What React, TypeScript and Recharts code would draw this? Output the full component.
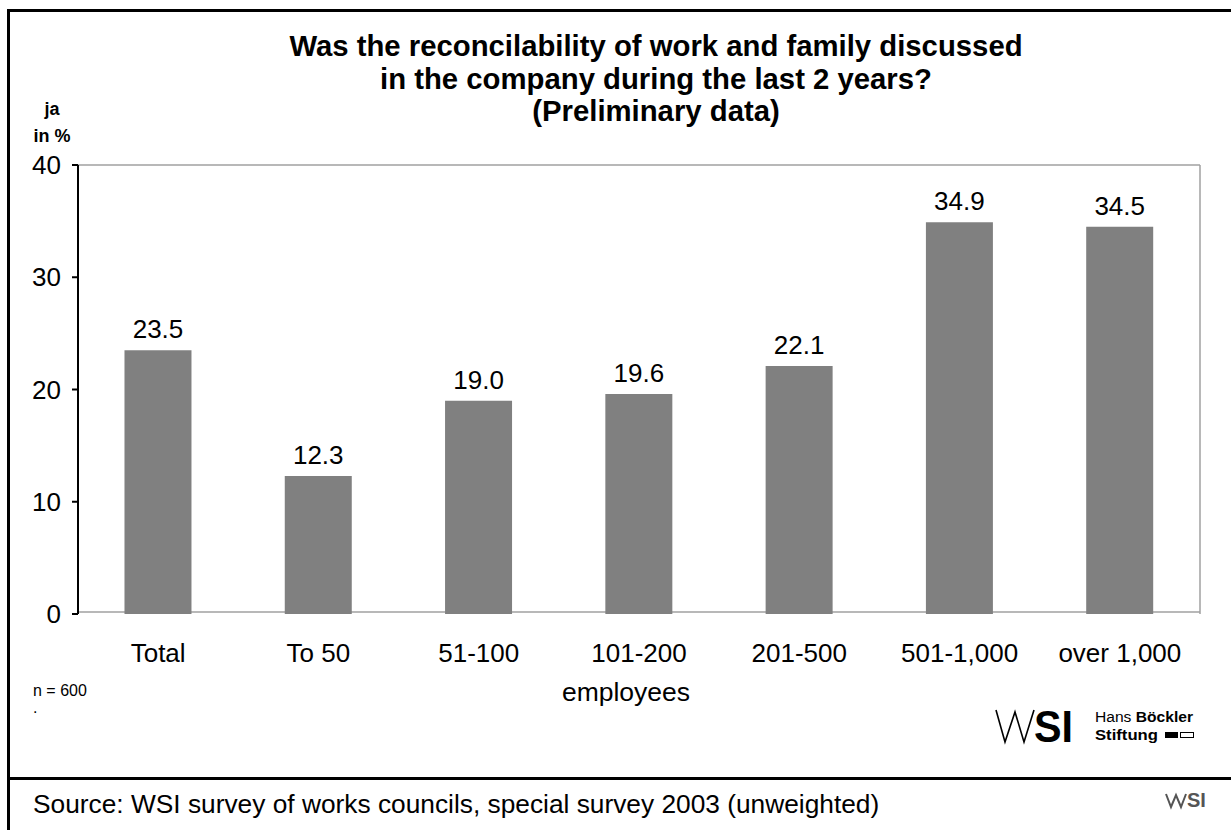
import { Bar, BarChart, CartesianGrid, LabelList, XAxis, YAxis } from "recharts";

const categories = ["Total", "To 50", "51-100", "101-200", "201-500", "501-1,000", "over 1,000"];
const jaValues = [23.5, 12.3, 19.0, 19.6, 22.1, 34.9, 34.5];
const yTicks = [0, 10, 20, 30, 40];
const titleLines = [
  "Was the reconcilability of work and family discussed",
  "in the company during the last 2 years?",
  "(Preliminary data)",
];

const data = categories.map((c, i) => ({ cat: c, ja: jaValues[i] }));
const edgeTicks = categories.map((_, i) => i).concat(categories.length);
const FONT = "'Liberation Sans', Arial, sans-serif";

export default function App() {
  return (
    <div style={{ position: "relative", width: 1231, height: 830, overflow: "hidden", background: "#fff", fontFamily: FONT }}>
      <style>{`body{margin:0}`}</style>
      {/* Rahmen wie im Original-Folienlayout */}
      <div style={{ position: "absolute", left: 7, top: 9, width: 1300, height: 900, borderLeft: "3px solid #000", borderTop: "3px solid #000" }} />
      <div style={{ position: "absolute", left: 7, top: 777, width: 1300, height: 3, background: "#000" }} />

      <div style={{ position: "absolute", left: 0, top: 0 }}>
        <BarChart width={1231} height={830} data={data} margin={{ top: 165, right: 31, left: 18, bottom: 176 }} barCategoryGap="29%">
          <CartesianGrid
            stroke="#a0a0a0"
            strokeWidth={1.5}
            horizontalCoordinatesGenerator={({ offset }: any) => [offset.top, offset.top + offset.height - 2]}
            verticalCoordinatesGenerator={({ offset }: any) => [offset.left + offset.width]}
          />
          <XAxis
            xAxisId="edges"
            type="number"
            domain={[0, categories.length]}
            ticks={edgeTicks}
            tick={false}
            height={0}
            tickSize={8}
            stroke="#000"
            strokeWidth={2}
          />
          <XAxis
            dataKey="cat"
            height={40}
            axisLine={false}
            tickLine={false}
            tickSize={0}
            tickMargin={30}
            tick={{ fill: "#000", fontSize: 26, fontFamily: FONT }}
            interval={0}
          />
          <YAxis
            domain={[0, 40]}
            ticks={yTicks}
            width={60}
            tickSize={6}
            tickMargin={11}
            stroke="#000"
            strokeWidth={2}
            tick={{ fill: "#000", fontSize: 26, fontFamily: FONT }}
          />
          <Bar dataKey="ja" fill="#808080" isAnimationActive={false}>
            <LabelList
              dataKey="ja"
              position="top"
              offset={12}
              fill="#000"
              fontSize={26}
              fontFamily={FONT}
              formatter={(v: any) => Number(v).toFixed(1)}
            />
          </Bar>
        </BarChart>
      </div>

      <svg width={1231} height={830} style={{ position: "absolute", left: 0, top: 0, pointerEvents: "none" }} fontFamily={FONT}>
        {titleLines.map((t, i) => (
          <text key={t} x={656} y={56 + i * 32.5} textAnchor="middle" fontSize={29.3} fontWeight="bold" fill="#000">
            {t}
          </text>
        ))}
        <text x={52} y={115} textAnchor="middle" fontSize={18} fontWeight="bold">ja</text>
        <text x={52} y={142} textAnchor="middle" fontSize={18} fontWeight="bold">in %</text>

        <text x={626} y={701} textAnchor="middle" fontSize={26.5}>employees</text>
        <text x={33} y={696} fontSize={16}>n = 600</text>
        <text x={33} y={713} fontSize={16}>.</text>

        {/* WSI / Hans-Böckler-Logo */}
        <polyline points="996,710 1005,742 1015,712 1024,742 1034,710" fill="none" stroke="#000" strokeWidth={1.6} />
        <text x={1034} y={742} fontSize={44} fontWeight="bold" textLength={39} lengthAdjust="spacingAndGlyphs">SI</text>
        <text x={1095} y={722} fontSize={15.5} textLength={98} lengthAdjust="spacingAndGlyphs">
          Hans <tspan fontWeight="bold">Böckler</tspan>
        </text>
        <text x={1095} y={740} fontSize={15.5} fontWeight="bold" textLength={63} lengthAdjust="spacingAndGlyphs">Stiftung</text>
        <rect x={1165} y={732} width={13} height={6} fill="#000" />
        <rect x={1180.5} y={732.5} width={13} height={5} fill="#fff" stroke="#000" strokeWidth={1} />

        <text x={33} y={813} fontSize={26.3}>Source: WSI survey of works councils, special survey 2003 (unweighted)</text>
        <polyline points="1166,794 1171,807 1176,795 1181,807 1186,794" fill="none" stroke="#555" strokeWidth={2} />
        <text x={1187} y={807} fontSize={20} fontWeight="bold" fill="#555">SI</text>
      </svg>
    </div>
  );
}
